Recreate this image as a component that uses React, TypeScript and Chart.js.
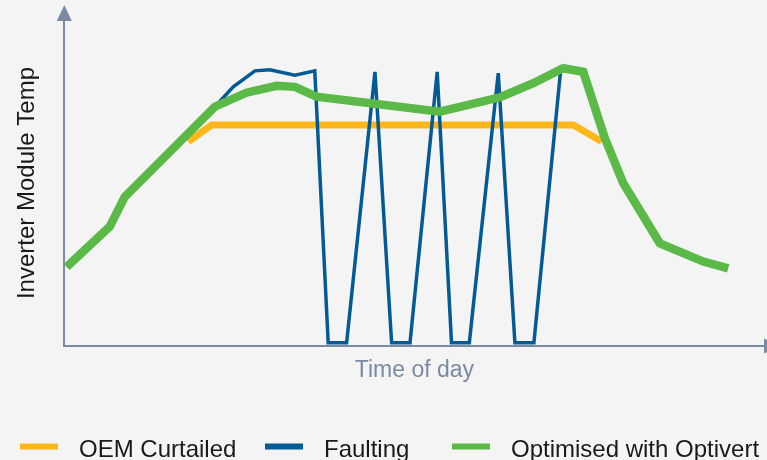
import React, { useEffect, useRef } from "react";
import { Chart, registerables } from "chart.js";

Chart.register(...registerables);

// Time of day (hours, axis spans 0–24) and module temperature (relative, 0–100)
const optimisedTime = [0.1, 1.57, 2.09, 5.17, 6.25, 7.28, 7.91, 8.65, 12.87, 14.93, 16.07, 17.09, 17.78, 18.52, 19.15, 20.4, 21.89, 22.74];
const optimisedTemp = [24.3, 36.6, 45.8, 73.4, 77.7, 79.8, 79.5, 76.5, 71.9, 76.3, 80.6, 85.2, 84.1, 63.7, 49.9, 31.5, 25.9, 23.8];

const faultingTime = [0.1, 1.57, 2.09, 5.17, 5.8, 6.54, 7.05, 7.91, 8.59, 9.05, 9.68, 10.65, 11.22, 11.85, 12.78, 13.27, 13.88, 14.87, 15.44, 16.09, 17.01];
const faultingTemp = [24.3, 36.6, 45.8, 73.4, 79.5, 84.4, 84.7, 83.1, 84.4, 1.0, 1.0, 84.1, 1.0, 1.0, 84.1, 1.0, 1.0, 83.7, 1.0, 1.0, 85.0];

const curtailedTime = [4.26, 5.06, 17.44, 18.41];
const curtailedTemp = [62.7, 67.8, 67.8, 62.7];

const seriesLabels = ["OEM Curtailed", "Faulting", "Optimised with Optivert"];
const seriesColors = ["#fdb71a", "#035a95", "#5bb947"];
const xTitle = "Time of day";
const yTitle = "Inverter Module Temp";

const AXIS_COLOR = "#7b8aa3";
const FONT = "'Liberation Sans', Arial, sans-serif";

const toPoints = (xs: number[], ys: number[]) => xs.map((x, i) => ({ x, y: ys[i] }));

const decorPlugin = {
  id: "decor",
  afterDraw(chart: any) {
    const { ctx, chartArea } = chart;
    ctx.save();
    ctx.fillStyle = AXIS_COLOR;
    // y axis arrow
    const ax = chartArea.left + 0.5;
    ctx.beginPath();
    ctx.moveTo(ax, 5);
    ctx.lineTo(ax - 7.5, chartArea.top + 1);
    ctx.lineTo(ax + 7.5, chartArea.top + 1);
    ctx.closePath();
    ctx.fill();
    // x axis arrow (runs off the right edge)
    const ay = chartArea.bottom;
    ctx.beginPath();
    ctx.moveTo(chartArea.right - 1, ay - 7.5);
    ctx.lineTo(chartArea.right + 14, ay);
    ctx.lineTo(chartArea.right - 1, ay + 7.5);
    ctx.closePath();
    ctx.fill();

    // legend
    const markerX = [20, 265, 452];
    const markerW = 38;
    const textGap = 21;
    const markerY = 446.5;
    const baseY = 456.5;
    ctx.font = `24px ${FONT}`;
    ctx.textBaseline = "alphabetic";
    ctx.textAlign = "left";
    seriesLabels.forEach((label, i) => {
      ctx.fillStyle = seriesColors[i];
      ctx.fillRect(markerX[i], markerY - 3, markerW, 6);
      ctx.fillStyle = "#1a1a1a";
      ctx.fillText(label, markerX[i] + markerW + textGap, baseY);
    });
    ctx.restore();
  },
};

export default function App() {
  const canvasRef = useRef<HTMLCanvasElement | null>(null);

  useEffect(() => {
    document.body.style.margin = "0";
    document.body.style.background = "#f4f4f4";
    const canvas = canvasRef.current;
    if (!canvas) return;
    const chart = new Chart(canvas, {
      type: "line",
      data: {
        datasets: [
          {
            label: seriesLabels[0],
            data: toPoints(curtailedTime, curtailedTemp),
            borderColor: seriesColors[0],
            backgroundColor: seriesColors[0],
            borderWidth: 7,
            pointRadius: 0,
            tension: 0,
            order: 2,
            borderJoinStyle: "miter",
          },
          {
            label: seriesLabels[1],
            data: toPoints(faultingTime, faultingTemp),
            borderColor: seriesColors[1],
            backgroundColor: seriesColors[1],
            borderWidth: 3.5,
            pointRadius: 0,
            tension: 0,
            order: 1,
            borderJoinStyle: "miter",
          },
          {
            label: seriesLabels[2],
            data: toPoints(optimisedTime, optimisedTemp),
            borderColor: seriesColors[2],
            backgroundColor: seriesColors[2],
            borderWidth: 8.5,
            pointRadius: 0,
            tension: 0,
            order: 0,
            borderJoinStyle: "miter",
          },
        ],
      },
      options: {
        responsive: false,
        animation: false,
        layout: { padding: { left: 0, right: 2, top: 20, bottom: 65.4 } },
        plugins: {
          legend: { display: false },
          tooltip: { enabled: false },
        },
        scales: {
          x: {
            type: "linear",
            min: 0,
            max: 24,
            grid: { display: false, drawTicks: false, tickLength: 0 },
            ticks: { display: false },
            border: { display: true, color: AXIS_COLOR, width: 2 },
            title: {
              display: true,
              text: xTitle,
              color: AXIS_COLOR,
              font: { family: FONT, size: 23 },
              padding: { top: 11, bottom: 10 },
            },
          },
          y: {
            type: "linear",
            min: 0,
            max: 100,
            grid: { display: false, drawTicks: false, tickLength: 0 },
            ticks: { display: false },
            border: { display: true, color: AXIS_COLOR, width: 2 },
            title: {
              display: true,
              text: yTitle,
              color: "#1a1a1a",
              font: { family: FONT, size: 24 },
              padding: { top: 13, bottom: 22 },
            },
          },
        },
      },
      plugins: [decorPlugin],
    });
    return () => chart.destroy();
  }, []);

  return (
    <div style={{ width: 767, height: 460, background: "#f4f4f4", overflow: "hidden" }}>
      <canvas ref={canvasRef} width={767} height={460} style={{ display: "block" }} />
    </div>
  );
}
